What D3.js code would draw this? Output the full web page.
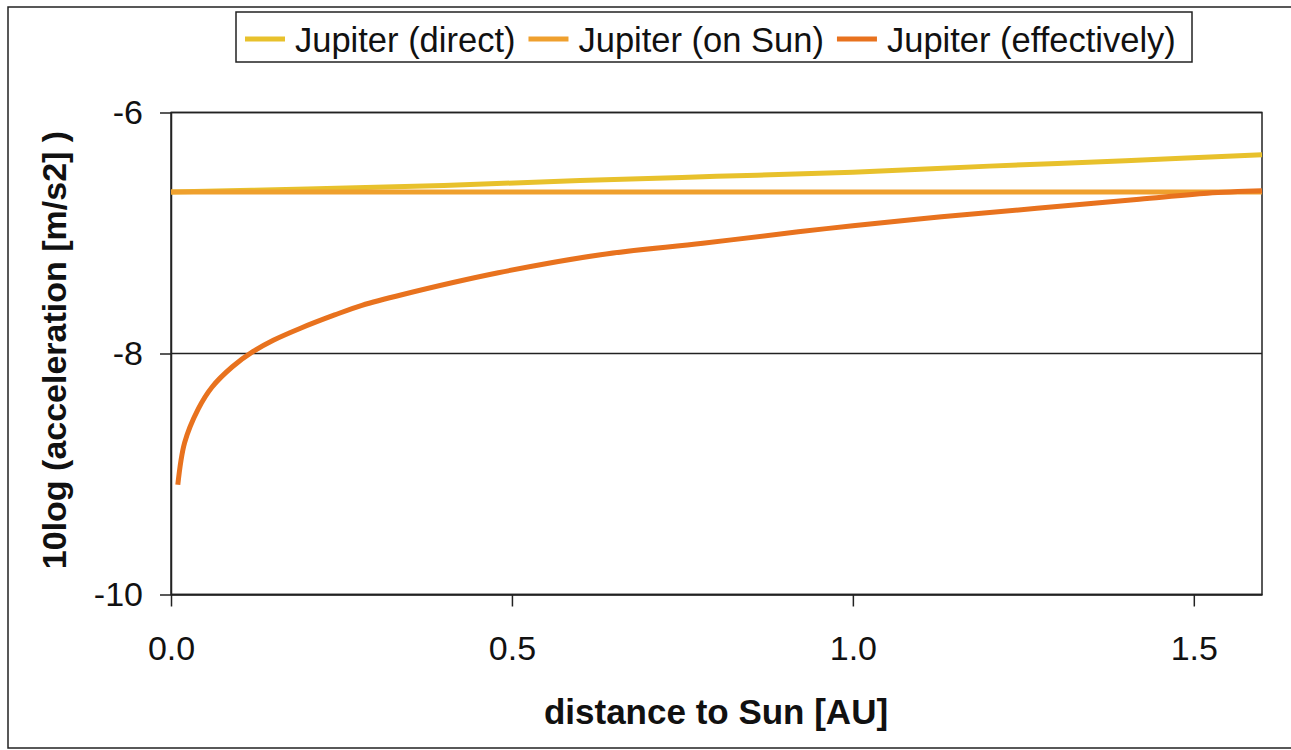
<!DOCTYPE html>
<html>
<head>
<meta charset="utf-8">
<script src="https://cdn.jsdelivr.net/npm/d3@7"></script>
<style>
  body { margin: 0; background: #fff; }
  svg { display: block; font-family: "Liberation Sans", Arial, sans-serif; }
</style>
</head>
<body>
<script>
// chart data
const seriesNames = ["Jupiter (direct)", "Jupiter (on Sun)", "Jupiter (effectively)"];
const seriesColors = ["#E8C12C", "#EFA02E", "#E8721E"];

const directDist = [0.0, 0.2, 0.4, 0.6, 0.8, 1.0, 1.2, 1.4, 1.6];
const directAcc = [-6.66, -6.635, -6.605, -6.565, -6.53, -6.495, -6.445, -6.40, -6.35];

const onSunDist = [0.0, 1.6];
const onSunAcc = [-6.66, -6.66];

const effDist = [0.01, 0.02, 0.04, 0.06, 0.09, 0.12, 0.15, 0.19, 0.24, 0.28, 0.34, 0.48, 0.63, 0.78, 0.92, 1.0, 1.13, 1.27, 1.42, 1.52, 1.6];
const effAcc = [-9.09, -8.74, -8.46, -8.28, -8.11, -7.985, -7.89, -7.79, -7.68, -7.60, -7.51, -7.33, -7.18, -7.085, -6.99, -6.94, -6.865, -6.795, -6.72, -6.67, -6.65];

const xTicks = [0.0, 0.5, 1.0, 1.5];
const yTicks = [-10, -8, -6];

let w = 1291;
let h = 750;
let plot = { left: 171, right: 1262, top: 112.5, bottom: 594.5 };

let svg = d3.select("body").append("svg").attr("width", w).attr("height", h);

// outer chart frame
svg.append("rect")
  .attr("x", 8).attr("y", 7)
  .attr("width", 1300).attr("height", 741)
  .attr("fill", "#fff")
  .attr("stroke", "#222")
  .attr("stroke-width", 1.5);

let xScale = d3.scaleLinear().domain([0, 1.6]).range([plot.left, plot.right]);
let yScale = d3.scaleLinear().domain([-10, -6]).range([plot.bottom, plot.top]);

// horizontal gridlines
svg.append("g").selectAll("line.grid")
  .data(yTicks)
  .enter()
  .append("line")
  .attr("class", "grid")
  .attr("x1", plot.left).attr("x2", plot.right)
  .attr("y1", (d) => yScale(d)).attr("y2", (d) => yScale(d))
  .attr("stroke", "#222")
  .attr("stroke-width", 1.5);

// plot border
svg.append("rect")
  .attr("x", plot.left).attr("y", plot.top)
  .attr("width", plot.right - plot.left).attr("height", plot.bottom - plot.top)
  .attr("fill", "none")
  .attr("stroke", "#222")
  .attr("stroke-width", 1.5);

const xAxis = d3.axisBottom(xScale).tickValues(xTicks).tickFormat(d3.format(".1f"))
  .tickSizeInner(12).tickSizeOuter(0).tickPadding(29);
const yAxis = d3.axisLeft(yScale).tickValues(yTicks).tickFormat(d3.format("d"))
  .tickSizeInner(11).tickSizeOuter(0).tickPadding(17);

let gx = svg.append("g")
  .attr("transform", "translate(0," + plot.bottom + ")")
  .call(xAxis);
let gy = svg.append("g")
  .attr("transform", "translate(" + plot.left + ",0)")
  .call(yAxis);

[gx, gy].forEach((g) => {
  g.select(".domain").attr("stroke", "#222").attr("stroke-width", 1.5);
  g.selectAll(".tick line").attr("stroke", "#222").attr("stroke-width", 1.5);
  g.selectAll(".tick text")
    .attr("fill", "#111")
    .style("font-family", "'Liberation Sans', Arial, sans-serif")
    .style("font-size", "34px");
});
gy.selectAll(".tick text").text((d) => d < 0 ? "-" + Math.abs(d) : d);

// lines
const series = [
  { xs: directDist, ys: directAcc },
  { xs: onSunDist, ys: onSunAcc },
  { xs: effDist, ys: effAcc }
];

const line = d3.line()
  .x((d) => xScale(d[0]))
  .y((d) => yScale(d[1]))
  .curve(d3.curveCatmullRom.alpha(0.5));

series.forEach((s, i) => {
  svg.append("path")
    .datum(d3.zip(s.xs, s.ys))
    .attr("fill", "none")
    .attr("stroke", seriesColors[i])
    .attr("stroke-width", 5)
    .attr("d", line);
});

// axis titles
svg.append("text")
  .attr("x", 716)
  .attr("y", 724)
  .attr("text-anchor", "middle")
  .attr("font-weight", "bold")
  .attr("font-size", "35px")
  .attr("fill", "#111")
  .text("distance to Sun [AU]");

svg.append("text")
  .attr("transform", "translate(66,350) rotate(-90)")
  .attr("text-anchor", "middle")
  .attr("font-weight", "bold")
  .attr("font-size", "34px")
  .attr("fill", "#111")
  .text("10log (acceleration [m/s2] )");

// legend
let legend = svg.append("g");
legend.append("rect")
  .attr("x", 236).attr("y", 12)
  .attr("width", 956).attr("height", 50)
  .attr("fill", "#fff")
  .attr("stroke", "#222")
  .attr("stroke-width", 1.5);

let lx = 245;
seriesNames.forEach((name, i) => {
  legend.append("line")
    .attr("x1", lx).attr("x2", lx + 40)
    .attr("y1", 39).attr("y2", 39)
    .attr("stroke", seriesColors[i])
    .attr("stroke-width", 5);
  let t = legend.append("text")
    .attr("x", lx + 50)
    .attr("y", 52)
    .attr("font-size", "34.5px")
    .attr("fill", "#111")
    .text(name);
  lx += 50 + t.node().getComputedTextLength() + 13;
});
</script>
</body>
</html>
